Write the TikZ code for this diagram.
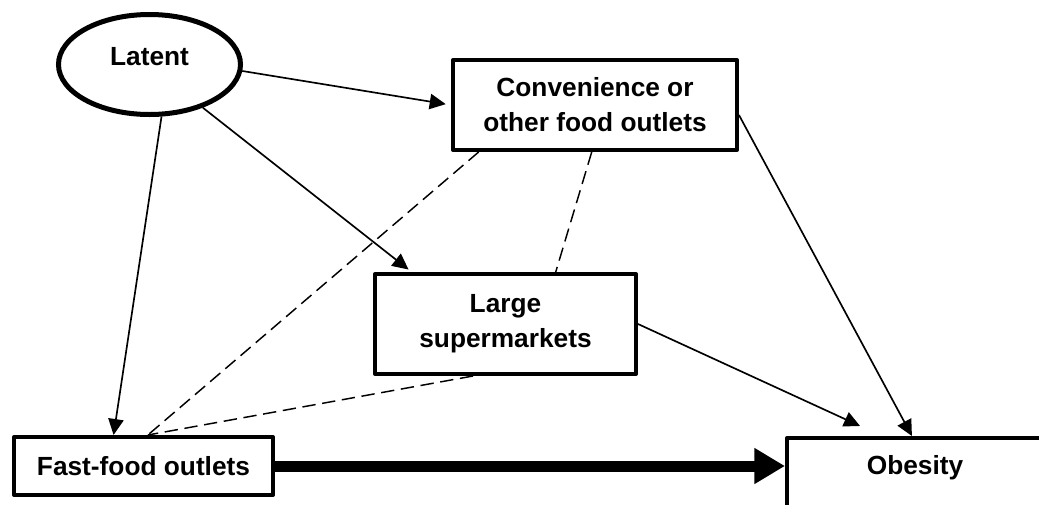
\documentclass[tikz,border=0pt]{standalone}
\usepackage{fontspec}
\setmainfont{Liberation Sans}
\usepackage{tikz}
\usetikzlibrary{arrows.meta,shapes.geometric}

\begin{document}
\begin{tikzpicture}[x=0.75pt,y=-0.75pt,
  box/.style={draw,rectangle,line width=3pt,line join=round,inner sep=0pt,
    align=center,font=\fontsize{19.7}{26.3}\selectfont\bfseries},
  oval/.style={draw,ellipse,line width=3.75pt,inner sep=0pt,
    font=\fontsize{19.7}{26.3}\selectfont\bfseries},
  link/.style={line width=1.25pt,-{Triangle[length=12pt,width=11.5pt]}},
  assoc/.style={line width=1.1pt,dash pattern=on 10pt off 5pt},
  main/.style={line width=8.25pt,-{Triangle[length=23pt,width=25.5pt]}}]

  \useasboundingbox (0,0) rectangle (1039,504);

  \node[oval,minimum width=136.5pt,minimum height=75pt,text height=14pt,text depth=12pt] (lat) at (149.5,64.5) {Latent};
  \node[box,minimum width=213pt,minimum height=67.5pt] (conv) at (595,105) {Convenience or\\other food outlets};
  \node[box,minimum width=195.75pt,minimum height=75pt] (large) at (505.5,324) {Large\\supermarkets};
  \node[box,minimum width=194.25pt,minimum height=43.5pt] (fast) at (143.5,466) {Fast-food outlets};
  \node[box,minimum width=192pt,minimum height=63pt,text height=14pt,text depth=22.5pt] (obes) at (915,480) {Obesity};
  \coordinate (hit) at (fast.east -| obes.west);

  \path[link] (lat.-4) edge[shorten >=4pt] (conv.west);
  \path[link] (lat.-39) edge[shorten >=3pt] (large.151);
  \path[link] (lat.-77) edge (fast.134);
  \path[link] (conv.-4) edge (obes.94);
  \path[link] (large.east) edge[shorten >=18pt] (obes.127);
  \path[main] (fast.east) edge (hit);

  \path[assoc] (conv.202) edge (fast.82);
  \path[assoc] (conv.-94) edge (large.46);
  \path[assoc] (large.-122) edge (fast.82);

\end{tikzpicture}
\end{document}
